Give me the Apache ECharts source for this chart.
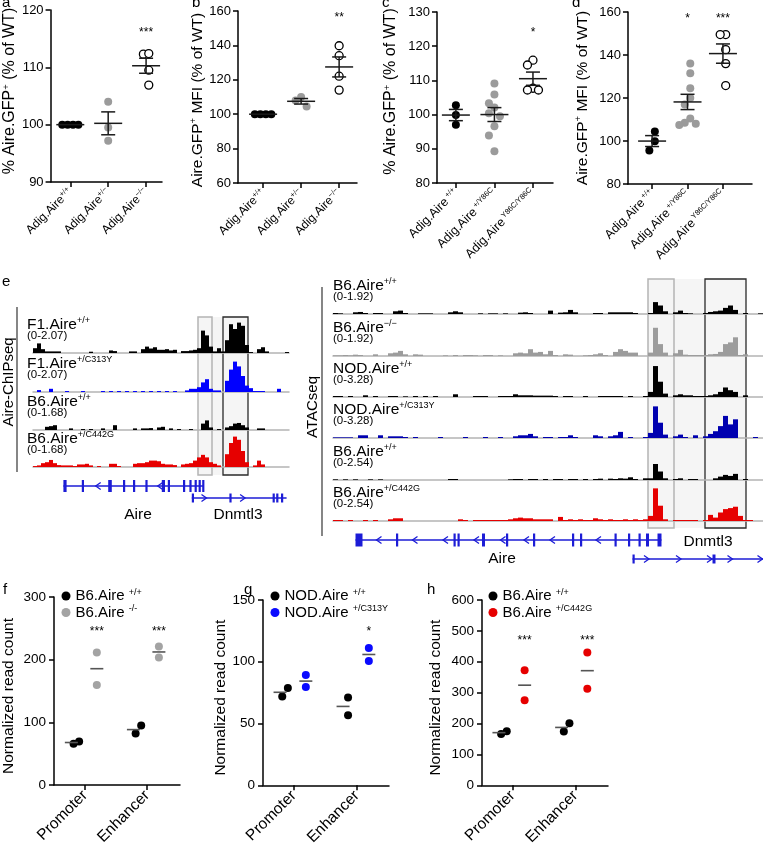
<!DOCTYPE html>
<html><head><meta charset="utf-8">
<script src="https://cdn.jsdelivr.net/npm/echarts@6/dist/echarts.min.js"></script>
<style>html,body{margin:0;padding:0;background:#fff}#c{width:763px;height:848px}</style>
</head><body><div id="c"></div>
<script>
const FONT = '"Liberation Sans", Arial, Helvetica, sans-serif';

// ===================== DATA =====================
// Panel a: % Aire.GFP+ (% of WT)
const aSup = ['+/+', '+/−', '−/−'];
const aGroups = [[100, 100, 100, 100], [104, 99.5, 97.2], [112.3, 112.4, 109.5, 106.9]];
const aStars = ['', '', '***'];
// Panel b: Aire.GFP+ MFI (% of WT)
const bSup = ['+/+', '+/−', '−/−'];
const bGroups = [[100, 100, 100, 100], [110, 108, 104.5], [139.8, 134, 122.1, 114]];
const bStars = ['', '', '**'];
// Panel c
const cSup = ['+/+', '+/Y86C', 'Y86C/Y86C'];
const cGroups = [[102.7, 99.9, 97], [109.1, 105.9, 103.3, 102.1, 100.4, 99.5, 96.6, 93.9, 89.3], [115.9, 114.5, 107.7, 107.2, 107.2]];
const cStars = ['', '', '*'];
// Panel d
const dSup = ['+/+', '+/Y86C', 'Y86C/Y86C'];
const dGroups = [[104.4, 99.9, 95.6], [136, 131.5, 124.5, 120, 117, 110.5, 108.5, 108, 107.5], [149.5, 149.5, 142.5, 136, 125.8]];
const dStars = ['', '*', '***'];

// Panel e (left): Aire-ChIPseq coverage, binned (relative height, % of track range)
const chipF1WT  = [15,30,12,5,5,5,5,0,0,0, 0,0,0,0,4,0,0,0,0,8, 6,0,0,0,5,5,0,12,20,14, 18,10,10,12,8,10,0,6,6,8, 10,15,70,55,20,5,15,5,40,90, 75,95,85,25,3,0,12,18,5,0, 0,0,0,3];
const chipF1Mut = [0,6,0,0,10,0,0,0,3,0, 0,0,3,0,0,0,0,3,0,3, 0,3,0,3,0,3,0,3,0,3, 0,3,0,3,0,3,0,0,5,10, 10,15,30,40,10,5,5,0,35,70, 95,80,50,20,12,3,3,3,0,0, 0,10,0,0];
const chipB6WT  = [0,0,0,10,12,15,0,0,0,5, 0,0,3,0,3,0,0,5,0,0, 15,0,0,0,0,5,0,5,5,6, 0,8,10,0,5,0,3,0,0,3, 0,0,20,30,8,0,3,0,8,12, 20,22,15,8,0,0,5,5,0,0, 0,0,0,0];
const chipB6Mut = [3,5,12,15,22,12,6,5,5,5, 3,8,8,10,5,0,3,0,0,10, 10,3,0,0,0,10,12,12,15,20, 20,18,10,8,8,6,0,8,10,12, 20,30,38,30,15,10,5,0,40,75, 95,85,50,15,0,5,20,8,0,0, 0,0,0,0];
const chipNames = [['F1.Aire', '+/+', '(0-2.07)'], ['F1.Aire', '+/C313Y', '(0-2.07)'], ['B6.Aire', '+/+', '(0-1.68)'], ['B6.Aire', '+/C442G', '(0-1.68)']];
const chipBoxes = [[41.25, 44.75], [47.5, 53.75]];   // promoter, enhancer (bins)
const chipGenes = [
  {name: 'Aire', row: 0, span: [7.6, 42.6], exons: [[7.6,8.4],[12.2,12.45],[18.8,19.7],[22.5,22.75],[25,25.25],[28.1,28.35],[32.2,33],[33.7,33.95],[37.5,37.75],[39.1,39.35],[40.4,40.65],[41.4,41.65],[42.3,42.6]], arrows: [16.3, 31.8], dir: -1},
  {name: 'Dnmtl3', row: 1, span: [39.7, 63.4], exons: [[39.7,39.95],[49.1,49.35],[59.9,60.2],[60.8,61.1],[62,62.3]], arrows: [42.75, 52.4], dir: 1}
];

// Panel e (right): ATACseq coverage, binned
const atacB6WT1  = [3,2,0,0,5,6,3,0,3,3, 0,0,8,10,3,0,0,2,2,2, 0,0,0,5,8,5,0,0,0,2, 0,2,2,0,2,0,0,4,5,3, 0,0,0,10,0,4,5,12,5,0, 0,0,3,3,0,5,5,5,5,5, 3,0,0,3,35,25,8,0,5,10, 3,2,0,0,3,6,8,10,18,25, 12,0,3,0,0,2];
const atacB6KO   = [2,2,3,2,4,3,0,0,5,0, 0,8,10,15,5,0,5,4,0,0, 0,0,2,0,3,0,3,3,2,0, 3,3,0,2,0,0,8,10,8,20, 10,12,5,15,3,0,5,4,0,0, 2,3,5,8,3,0,12,20,15,10, 10,0,0,10,83,35,10,0,8,18, 4,3,3,3,3,5,6,12,35,40, 55,3,5,0,0,0];
const atacNODWT  = [3,3,0,3,0,0,5,0,3,0, 0,3,3,0,2,0,3,0,3,0, 3,0,0,0,8,0,0,0,3,3, 3,0,0,3,3,3,8,5,5,5, 4,4,4,4,3,0,3,3,0,0, 3,0,0,3,3,3,3,3,0,3, 0,0,3,15,91,45,10,0,5,8, 5,5,3,3,3,5,8,15,28,20, 15,0,5,0,0,0];
const atacNODMut = [2,2,2,2,0,8,8,0,0,8, 0,5,5,5,3,0,3,0,0,0, 0,3,0,0,0,0,3,0,0,0, 3,0,0,3,0,0,5,8,8,12, 5,0,3,3,0,3,3,8,3,0, 0,0,8,5,0,5,8,18,0,3, 0,0,3,15,93,45,10,0,5,10, 3,0,8,0,5,12,20,35,65,40, 55,0,0,0,3,0];
const atacB6WT2  = [2,0,2,0,2,0,0,2,0,2, 0,0,0,0,0,0,0,0,0,0, 0,0,0,3,3,0,0,0,0,0, 0,0,0,0,0,2,3,3,0,3, 3,0,3,0,3,3,0,3,3,0, 3,0,3,4,0,4,3,5,4,8, 3,0,5,5,47,25,5,0,3,5, 0,3,3,0,0,0,5,10,15,12, 18,0,3,0,0,0];
const atacB6Mut  = [3,3,0,3,0,0,3,0,3,0, 0,5,8,8,0,0,0,0,0,0, 0,0,0,0,0,5,3,0,3,3, 3,3,3,3,3,5,8,10,8,8, 5,5,5,5,0,12,3,5,3,5, 3,3,8,5,3,5,3,3,5,3, 5,3,5,15,96,45,5,0,3,3, 3,3,3,0,3,18,10,25,35,38, 42,15,3,3,0,0];
const atacNames = [['B6.Aire', '+/+', '(0-1.92)'], ['B6.Aire', '−/−', '(0-1.92)'], ['NOD.Aire', '+/+', '(0-3.28)'], ['NOD.Aire', '+/C313Y', '(0-3.28)'], ['B6.Aire', '+/+', '(0-2.54)'], ['B6.Aire', '+/C442G', '(0-2.54)']];
const atacBoxes = [[63, 68.2], [74.4, 82.6]];
const atacGenes = [
  {name: 'Aire', row: 0, span: [4.5, 65.7], exons: [[4.5,5.9],[12.6,12.85],[24.1,24.35],[24.9,25.15],[29.8,30.4],[34.6,34.85],[40,40.25],[47.8,48.1],[49.4,49.7],[56.3,56.6],[59,59.25],[61.1,61.35],[62.6,63.2],[64.9,65.7]], arrows: [9.2,16.4,22.5,28.7,34,38.7,43.9,53.1], dir: -1},
  {name: 'Dnmtl3', row: 1, span: [59.9, 86], exons: [[59.9,60.1],[75.9,76.5]], arrows: [62.7,69.1,75.3,79.4,85.4], dir: 1}
];

// Panels f-h: normalized read counts (two replicates per group)
const regions = ['Promoter', 'Enhancer'];
const fWT  = [[66, 69.6], [82, 94.8]];
const fMut = [[211.6, 159.6], [221, 203.6]];
const fStars = ['***', '***'];
const gWT  = [[71.9, 78.7], [71, 56.7]];
const gMut = [[89.2, 79.5], [111.2, 100.6]];
const gStars = ['', '*'];
const hWT  = [[166, 175], [174.2, 200.6]];
const hMut = [[372.7, 275.7], [429.8, 312.5]];
const hStars = ['***', '***'];

// ===================== BUILD =====================
const option = {animation: false, backgroundColor: '#fff', textStyle: {fontFamily: FONT},
  grid: [], xAxis: [], yAxis: [], series: [], legend: [], graphic: {elements: []}};
const G = option.graphic.elements;

function addCartesian(grid, xAxis, yAxis) {
  const i = option.grid.length;
  option.grid.push(grid);
  option.xAxis.push(Object.assign({gridIndex: i}, xAxis));
  option.yAxis.push(Object.assign({gridIndex: i}, yAxis));
  return i;
}
const mean = v => v.reduce((a, b) => a + b, 0) / v.length;
const sem = v => { const m = mean(v); const n = v.length; if (n < 2) return 0;
  return Math.sqrt(v.reduce((a, b) => a + (b - m) * (b - m), 0) / (n - 1)) / Math.sqrt(n); };

// simple beeswarm: returns horizontal pixel offsets
function swarm(vals, pxY, step, dy) {
  const idx = vals.map((v, i) => i).sort((a, b) => vals[b] - vals[a]);
  const placed = []; const offs = vals.map(() => 0);
  idx.forEach(i => {
    const y = vals[i] * pxY;
    for (let k = 0; k < 60; k++) {
      const cand = k === 0 ? 0 : (k % 2 ? -1 : 1) * Math.ceil(k / 2) * step;
      if (!placed.some(p => Math.abs(p.y - y) < dy && Math.abs(p.x - cand) < step * 0.99)) {
        offs[i] = cand; placed.push({x: cand, y}); break;
      }
    }
  });
  const sh = (Math.min(...offs) + Math.max(...offs)) / 2;
  return offs.map(o => o - sh);
}

const axisLineStyle = {color: '#000', width: 1.5};
function supRich(size, sup, color) {
  return {m: {fontSize: size, fontFamily: FONT, color: color || '#000', lineHeight: size + 2},
          s: {fontSize: sup, fontFamily: FONT, color: color || '#000', verticalAlign: 'top', lineHeight: sup + 1}};
}
// shift a rotated (90deg) axis name along the axis: positive = upward
function shiftPad(up) { return up >= 0 ? [0, 0, 0, 2 * up] : [0, -2 * up, 0, 0]; }

function statsSeries(gi, data, halfMean, halfCap, color, lw, withSem) {
  return {type: 'custom', xAxisIndex: gi, yAxisIndex: gi, z: 3, silent: true, data, encode: {x: 0, y: 1},
    renderItem: (p, api) => {
      const x = api.value(0), m = api.value(1), s = api.value(2), sh = api.value(3) || 0;
      const c = api.coord([x, m]); const cx = c[0] + sh;
      const st = {stroke: color, lineWidth: lw};
      const ch = [{type: 'line', shape: {x1: cx - halfMean, y1: c[1], x2: cx + halfMean, y2: c[1]}, style: st}];
      if (withSem && s > 0) {
        const t = api.coord([x, m + s]), b = api.coord([x, m - s]);
        ch.push({type: 'line', shape: {x1: cx, y1: t[1], x2: cx, y2: b[1]}, style: st});
        ch.push({type: 'line', shape: {x1: cx - halfCap, y1: t[1], x2: cx + halfCap, y2: t[1]}, style: st});
        ch.push({type: 'line', shape: {x1: cx - halfCap, y1: b[1], x2: cx + halfCap, y2: b[1]}, style: st});
      }
      return {type: 'group', children: ch};
    }};
}
function starSeries(gi, items, size) {
  const data = items.filter(d => d[2]);
  return {type: 'custom', xAxisIndex: gi, yAxisIndex: gi, z: 4, silent: true, data: data.map(d => [d[0], d[1]]), encode: {x: 0, y: 1},
    renderItem: (p, api) => {
      const c = api.coord([api.value(0), api.value(1)]);
      return {type: 'text', x: c[0], y: c[1], style: {text: data[p.dataIndex][2], fontSize: size, fontFamily: FONT, fill: '#000', align: 'center', verticalAlign: 'middle'}};
    }};
}

// ---------- panels a-d ----------
const FILL = ['#000', '#9b9b9b', '#fff'], BORDER = ['#000', '#9b9b9b', '#000'];
const scatterPanels = [
  {letter: 'a', lx: 2, grid: {left: 48, top: 10, width: 114, height: 172}, xr: [-0.52, 2.42], yr: [90, 120, 10], groups: aGroups, sup: aSup, sp: '', stars: aStars, starY: 116,
   title: '{m|% Aire.GFP}{s|+}{m| (% of WT)}', gap: 31, cat: 12, shift: 5, tsize: 16},
  {letter: 'b', lx: 192, grid: {left: 238, top: 11, width: 119, height: 172}, xr: [-0.66, 2.47], yr: [60, 160, 20], groups: bGroups, sup: bSup, sp: '', stars: bStars, starY: 156,
   title: '{m|Aire.GFP}{s|+}{m| MFI (% of WT)}', gap: 31, cat: 12, shift: -3, tsize: 15.5},
  {letter: 'c', lx: 382, grid: {left: 437, top: 12, width: 116, height: 171}, xr: [-0.49, 2.52], yr: [80, 130, 10], groups: cGroups, sup: cSup, sp: ' ', stars: cStars, starY: 124,
   title: '{m|% Aire.GFP}{s|+}{m| (% of WT)}', gap: 37, cat: 12.5, shift: 6, tsize: 16},
  {letter: 'd', lx: 572, grid: {left: 628, top: 12, width: 124, height: 172}, xr: [-0.68, 2.82], yr: [80, 160, 20], groups: dGroups, sup: dSup, sp: ' ', stars: dStars, starY: 157,
   title: '{m|Aire.GFP}{s|+}{m| MFI (% of WT)}', gap: 37, cat: 12.5, shift: 0, tsize: 15.5}
];
scatterPanels.forEach(P => {
  const gi = addCartesian(P.grid,
    {type: 'value', min: P.xr[0], max: P.xr[1], splitLine: {show: false},
     axisLine: {show: true, onZero: false, lineStyle: axisLineStyle},
     axisTick: {show: true, customValues: [0, 1, 2], length: 5, lineStyle: axisLineStyle},
     axisLabel: {show: true, customValues: [0, 1, 2], rotate: 45, margin: 8,
       formatter: v => `{m|Adig.Aire}{s|${P.sp}${P.sup[Math.round(v)]}}`, rich: supRich(P.cat, 7.5)}},
    {type: 'value', min: P.yr[0], max: P.yr[1], interval: P.yr[2], splitLine: {show: false},
     axisLine: {show: true, onZero: false, lineStyle: axisLineStyle},
     axisTick: {show: true, length: 5, lineStyle: axisLineStyle},
     axisLabel: {fontSize: 13, color: '#000', margin: 7, fontFamily: FONT},
     name: P.title, nameLocation: 'middle', nameRotate: 90, nameGap: P.gap,
     nameTextStyle: {rich: supRich(P.tsize, 9.5), padding: shiftPad(P.shift)}});
  const pxX = P.grid.width / (P.xr[1] - P.xr[0]);
  const pxY = P.grid.height / (P.yr[1] - P.yr[0]);
  P.groups.forEach((vals, k) => {
    const offs = swarm(vals, pxY, 5.5, 9.5);
    option.series.push({type: 'scatter', xAxisIndex: gi, yAxisIndex: gi, symbol: 'circle', symbolSize: 8, z: 2, silent: true,
      itemStyle: {color: FILL[k], borderColor: BORDER[k], borderWidth: k === 2 ? 1.3 : 0, opacity: 1},
      data: vals.map((v, j) => [k + offs[j] / pxX, v])});
  });
  option.series.push(statsSeries(gi, P.groups.map((v, k) => [k, mean(v), sem(v), 0]), 14, 7, '#1a1a1a', 1.5, true));
  option.series.push(starSeries(gi, P.stars.map((s, k) => [k, P.starY, s]), 12));
  G.push({type: 'text', x: P.lx, y: -5, silent: true, style: {text: P.letter, fontSize: 15, fontFamily: FONT, fill: '#000', align: 'left', verticalAlign: 'top'}});
});

// ---------- panel e ----------
function txt(x, y, text, size, extra) {
  G.push({type: 'text', x, y, silent: true, style: Object.assign({text, fontSize: size, fontFamily: FONT, fill: '#000', align: 'left', verticalAlign: 'middle'}, extra || {})});
}
function supTxt(x, y, main, sup, size, supSize) {
  G.push({type: 'text', x, y, silent: true, style: {text: `{m|${main}}{s|${sup}}`, align: 'left', verticalAlign: 'middle',
    rich: {m: {fontSize: size, fontFamily: FONT, fill: '#000', lineHeight: size + 2},
           s: {fontSize: supSize, fontFamily: FONT, fill: '#000', verticalAlign: 'top', lineHeight: supSize + 1}}}});
}
const GENE_BLUE = '#1c1cd6';
function buildTracks(L, names, values, colors, boxes, genes) {
  // highlighted regions
  const oi = addCartesian({left: L.left, top: L.boxTop, width: L.width, height: L.boxBottom - L.boxTop},
    {type: 'value', min: 0, max: L.bins, show: false}, {type: 'value', min: 0, max: 1, show: false});
  option.series.push({type: 'custom', xAxisIndex: oi, yAxisIndex: oi, z: -1, silent: true, data: [[0, 0]], encode: {x: 0, y: 1},
    renderItem: (p, api) => {
      const r = (b, style) => { const a = api.coord([b[0], 1]), c = api.coord([b[1], 0]);
        return {type: 'rect', shape: {x: a[0], y: a[1], width: c[0] - a[0], height: c[1] - a[1]}, style}; };
      return {type: 'group', children: [
        r([boxes[0][0], boxes[1][1]], {fill: '#f5f5f5'}),
        r(boxes[0], {fill: 'none', stroke: '#b4b4b4', lineWidth: 1.5}),
        r(boxes[1], {fill: 'none', stroke: '#2a2a2a', lineWidth: 1.3})]};
    }});
  // coverage tracks
  values.forEach((vals, t) => {
    const base = L.baselines[t];
    const gi = addCartesian({left: L.left, top: base - L.h, width: L.width, height: L.h},
      {type: 'category', data: vals.map((v, i) => i), boundaryGap: true, axisLine: {show: true, onZero: false, lineStyle: {color: '#b4b4b4', width: 1.5}},
       axisTick: {show: false}, axisLabel: {show: false}, splitLine: {show: false}},
      {type: 'value', min: 0, max: 100, show: false});
    option.series.push({type: 'bar', xAxisIndex: gi, yAxisIndex: gi, data: vals, barCategoryGap: '0%', barGap: '0%', silent: true, z: 2,
      itemStyle: {color: colors[t], borderWidth: 0}});
    supTxt(L.labelX, base - 28.5, names[t][0], names[t][1], 15.5, 9);
    txt(L.labelX, base - 17, names[t][2], 11.5);
  });
  // gene models
  const gg = addCartesian({left: L.left, top: L.geneTop, width: L.width, height: L.geneH},
    {type: 'value', min: 0, max: L.bins, show: false}, {type: 'value', min: -0.5, max: 1.5, inverse: true, show: false});
  option.series.push({type: 'custom', xAxisIndex: gg, yAxisIndex: gg, z: 2, silent: true, clip: false,
    data: genes.map(g => [g.span[0], g.row]), encode: {x: 0, y: 1},
    renderItem: (p, api) => {
      const g = genes[p.dataIndex];
      const eh = g.row === 0 ? L.exonH[0] : L.exonH[1];
      const a = api.coord([g.span[0], g.row]), b = api.coord([g.span[1], g.row]);
      const ch = [{type: 'line', shape: {x1: a[0], y1: a[1], x2: b[0], y2: b[1]}, style: {stroke: GENE_BLUE, lineWidth: 1.5}}];
      g.exons.forEach(e => { const s = api.coord([e[0], g.row]), f = api.coord([e[1], g.row]);
        const w = Math.max(f[0] - s[0], 2.2);
        ch.push({type: 'rect', shape: {x: s[0], y: s[1] - eh / 2, width: w, height: eh}, style: {fill: GENE_BLUE}}); });
      g.arrows.forEach(x => { const c = api.coord([x, g.row]); const tip = c[0] + g.dir * 2.5, back = c[0] - g.dir * 2.5;
        ch.push({type: 'polyline', shape: {points: [[back, c[1] - 3.5], [tip, c[1]], [back, c[1] + 3.5]]}, style: {stroke: GENE_BLUE, lineWidth: 1.3, fill: 'none'}}); });
      return {type: 'group', children: ch};
    }});
}
const CHIP = {left: 33, width: 256, bins: 64, baselines: [353, 392, 430, 467], h: 32, boxTop: 317, boxBottom: 475, geneTop: 480, geneH: 24, labelX: 27, exonH: [12, 9]};
const ATAC = {left: 333, width: 430, bins: 86, baselines: [314, 356, 397, 438, 480, 521], h: 34, boxTop: 279, boxBottom: 528, geneTop: 530.5, geneH: 38, labelX: 333, exonH: [13, 9]};
buildTracks(CHIP, chipNames, [chipF1WT, chipF1Mut, chipB6WT, chipB6Mut], ['#000', '#0000ff', '#000', '#e60000'], chipBoxes, chipGenes);
buildTracks(ATAC, atacNames, [atacB6WT1, atacB6KO, atacNODWT, atacNODMut, atacB6WT2, atacB6Mut], ['#000', '#9c9c9c', '#000', '#0000b0', '#000', '#e60000'], atacBoxes, atacGenes);

txt(2, 282, 'e', 15);
G.push({type: 'line', silent: true, shape: {x1: 17, y1: 307, x2: 17, y2: 472}, style: {stroke: '#444', lineWidth: 1.3}});
G.push({type: 'line', silent: true, shape: {x1: 322, y1: 287, x2: 322, y2: 536}, style: {stroke: '#444', lineWidth: 1.3}});
G.push({type: 'text', x: 9, y: 382, rotation: Math.PI / 2, silent: true, style: {text: 'Aire-ChIPseq', fontSize: 15, fontFamily: FONT, fill: '#000', align: 'center', verticalAlign: 'middle'}});
G.push({type: 'text', x: 313, y: 407, rotation: Math.PI / 2, silent: true, style: {text: 'ATACseq', fontSize: 15, fontFamily: FONT, fill: '#000', align: 'center', verticalAlign: 'middle'}});
txt(138, 515, 'Aire', 15.5, {align: 'center'});
txt(238, 515, 'Dnmtl3', 15.5, {align: 'center'});
txt(502, 559, 'Aire', 15.5, {align: 'center'});
txt(708, 542, 'Dnmtl3', 15.5, {align: 'center'});

// ---------- panels f-h ----------
const GROUP_OFF = [-0.14, 0.19], MEAN_SHIFT = [-5, 0];
const fghPanels = [
  {id: 'f', letter: 'f', lx: 3, grid: {left: 53, top: 597, width: 127, height: 188}, xr: [-0.5, 1.53], yr: [0, 300, 100], wt: fWT, mut: fMut, stars: fStars, starY: 244,
   mutColor: '#a3a3a3', names: [['B6.Aire', '+/+'], ['B6.Aire', '-/-']], legendLeft: 61.5, gap: 37},
  {id: 'g', letter: 'g', lx: 244, grid: {left: 263, top: 600, width: 126, height: 189}, xr: [-0.49, 1.51], yr: [0, 150, 50], wt: gWT, mut: gMut, stars: gStars, starY: 124,
   mutColor: '#0a0aff', names: [['NOD.Aire', '+/+'], ['NOD.Aire', '+/C313Y']], legendLeft: 270.5, gap: 32},
  {id: 'h', letter: 'h', lx: 427, grid: {left: 482, top: 600, width: 126, height: 189}, xr: [-0.49, 1.52], yr: [0, 600, 100], wt: hWT, mut: hMut, stars: hStars, starY: 467,
   mutColor: '#e60000', names: [['B6.Aire', '+/+'], ['B6.Aire', '+/C442G']], legendLeft: 488.5, gap: 38}
];
fghPanels.forEach(P => {
  const gi = addCartesian(P.grid,
    {type: 'value', min: P.xr[0], max: P.xr[1], splitLine: {show: false},
     axisLine: {show: true, onZero: false, lineStyle: axisLineStyle},
     axisTick: {show: true, customValues: [0, 1], length: 5, lineStyle: axisLineStyle},
     axisLabel: {show: true, customValues: [0, 1], rotate: 45, margin: 8, fontSize: 15.5, color: '#000', fontFamily: FONT,
       formatter: v => regions[Math.round(v)]}},
    {type: 'value', min: P.yr[0], max: P.yr[1], interval: P.yr[2], splitLine: {show: false},
     axisLine: {show: true, onZero: false, lineStyle: axisLineStyle},
     axisTick: {show: true, length: 5, lineStyle: axisLineStyle},
     axisLabel: {fontSize: 13.5, color: '#000', margin: 8, fontFamily: FONT},
     name: 'Normalized read count', nameLocation: 'middle', nameRotate: 90, nameGap: P.gap,
     nameTextStyle: {fontSize: 15.5, color: '#000', fontFamily: FONT, padding: shiftPad(-5)}});
  const pxX = P.grid.width / (P.xr[1] - P.xr[0]);
  const pxY = P.grid.height / (P.yr[1] - P.yr[0]);
  const sets = [P.wt, P.mut], colors = ['#000', P.mutColor];
  const stats = [];
  sets.forEach((set, s) => {
    const nm = `${P.id}:${P.names[s][0]}|${P.names[s][1]}`;
    const data = [];
    set.forEach((vals, i) => {
      const offs = swarm(vals, pxY, 5.6, 10);
      vals.forEach((v, j) => data.push([i + GROUP_OFF[s] + offs[j] / pxX, v]));
      stats.push([i + GROUP_OFF[s], mean(vals), 0, MEAN_SHIFT[s]]);
    });
    option.series.push({type: 'scatter', name: nm, xAxisIndex: gi, yAxisIndex: gi, symbol: 'circle', symbolSize: 8, z: 2, silent: true,
      itemStyle: {color: colors[s], opacity: 1}, data});
  });
  option.series.push(statsSeries(gi, stats, 6.5, 0, '#555', 1.6, false));
  option.series.push(starSeries(gi, P.stars.map((s, i) => [i + GROUP_OFF[1], P.starY, s]), 12));
  option.legend.push({orient: 'vertical', left: P.legendLeft, top: 588, padding: 0, itemWidth: 9, itemHeight: 9, itemGap: 1, icon: 'circle', selectedMode: false,
    data: P.names.map(n => `${P.id}:${n[0]}|${n[1]}`),
    formatter: n => { const m = n.match(/^.:(.*)\|(.*)$/); return `{m|${m[1]} }{s|${m[2]}}`; },
    textStyle: {rich: {m: {fontSize: 15, fontFamily: FONT, color: '#000', lineHeight: 16}, s: {fontSize: 9, fontFamily: FONT, color: '#000', verticalAlign: 'top', lineHeight: 10}}}});
  G.push({type: 'text', x: P.lx, y: 582, silent: true, style: {text: P.letter, fontSize: 15, fontFamily: FONT, fill: '#000', align: 'left', verticalAlign: 'top'}});
});

const chart = echarts.init(document.getElementById('c'), null, {renderer: 'canvas'});
chart.setOption(option);
</script></body></html>
